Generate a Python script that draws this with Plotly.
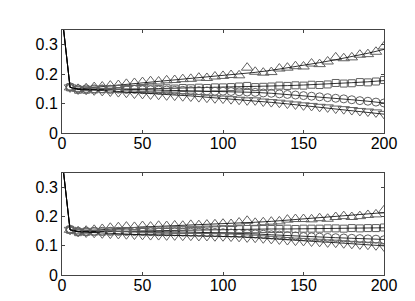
import plotly.graph_objects as go
from plotly.subplots import make_subplots

# line (trend) knots
line_x = [0, 5, 10, 20, 30, 40, 50, 60, 70, 80, 90, 100, 110, 120, 130, 140, 150, 160, 170, 180, 190, 200]
top_up_line = [0.40, 0.155, 0.150, 0.155, 0.160, 0.166, 0.172, 0.177, 0.181, 0.185, 0.190, 0.195, 0.200, 0.206, 0.213, 0.221, 0.230, 0.239, 0.249, 0.259, 0.271, 0.284]
top_sq_line = [0.40, 0.155, 0.148, 0.148, 0.149, 0.149, 0.150, 0.151, 0.152, 0.153, 0.154, 0.156, 0.157, 0.158, 0.159, 0.161, 0.163, 0.165, 0.168, 0.171, 0.174, 0.178]
top_ci_line = [0.40, 0.155, 0.150, 0.150, 0.149, 0.148, 0.147, 0.146, 0.145, 0.144, 0.143, 0.142, 0.140, 0.138, 0.135, 0.131, 0.127, 0.123, 0.118, 0.113, 0.108, 0.102]
top_dn_line = [0.40, 0.155, 0.148, 0.146, 0.143, 0.139, 0.135, 0.132, 0.129, 0.126, 0.122, 0.118, 0.114, 0.109, 0.104, 0.099, 0.093, 0.088, 0.082, 0.076, 0.070, 0.064]

bot_up_line = [0.40, 0.155, 0.150, 0.154, 0.158, 0.162, 0.165, 0.167, 0.169, 0.171, 0.173, 0.175, 0.178, 0.181, 0.184, 0.188, 0.192, 0.196, 0.200, 0.204, 0.209, 0.214]
bot_sq_line = [0.40, 0.155, 0.148, 0.149, 0.150, 0.151, 0.152, 0.153, 0.154, 0.155, 0.156, 0.157, 0.157, 0.158, 0.158, 0.158, 0.159, 0.159, 0.160, 0.160, 0.161, 0.162]
bot_ci_line = [0.40, 0.155, 0.150, 0.150, 0.150, 0.149, 0.149, 0.148, 0.148, 0.147, 0.146, 0.145, 0.143, 0.141, 0.138, 0.135, 0.132, 0.130, 0.128, 0.126, 0.124, 0.122]
bot_dn_line = [0.40, 0.155, 0.148, 0.145, 0.142, 0.140, 0.138, 0.137, 0.136, 0.135, 0.134, 0.133, 0.131, 0.128, 0.124, 0.120, 0.117, 0.114, 0.111, 0.107, 0.104, 0.100]

# marker samples
mark_x = [5, 10, 15, 20, 25, 30, 35, 40, 45, 50, 55, 60, 65, 70, 75, 80, 85, 90, 95, 100,
          105, 110, 115, 120, 125, 130, 135, 140, 145, 150, 155, 160, 165, 170, 175, 180, 185, 190, 195, 200]

top_up = [0.155, 0.150, 0.152, 0.156, 0.158, 0.161, 0.163, 0.167, 0.170, 0.173, 0.176, 0.175, 0.179, 0.180, 0.183, 0.184, 0.188, 0.187, 0.192, 0.194,
          0.197, 0.196, 0.222, 0.208, 0.205, 0.207, 0.219, 0.222, 0.227, 0.226, 0.236, 0.234, 0.243, 0.257, 0.254, 0.257, 0.266, 0.268, 0.276, 0.294]
top_sq = [0.155, 0.147, 0.147, 0.148, 0.149, 0.148, 0.150, 0.149, 0.150, 0.150, 0.151, 0.150, 0.152, 0.151, 0.153, 0.152, 0.154, 0.153, 0.155, 0.155,
          0.156, 0.158, 0.160, 0.156, 0.157, 0.158, 0.161, 0.160, 0.162, 0.161, 0.164, 0.163, 0.165, 0.170, 0.168, 0.169, 0.173, 0.172, 0.175, 0.180]
top_ci = [0.157, 0.150, 0.150, 0.150, 0.150, 0.149, 0.149, 0.148, 0.148, 0.147, 0.147, 0.146, 0.146, 0.145, 0.145, 0.144, 0.144, 0.143, 0.142, 0.142,
          0.141, 0.140, 0.139, 0.138, 0.136, 0.135, 0.133, 0.131, 0.129, 0.127, 0.125, 0.123, 0.120, 0.118, 0.116, 0.113, 0.110, 0.108, 0.105, 0.102]
top_dn = [0.155, 0.148, 0.147, 0.145, 0.143, 0.141, 0.139, 0.137, 0.134, 0.133, 0.131, 0.130, 0.128, 0.127, 0.125, 0.124, 0.122, 0.120, 0.118, 0.117,
          0.115, 0.113, 0.111, 0.111, 0.107, 0.105, 0.103, 0.100, 0.097, 0.094, 0.092, 0.089, 0.087, 0.083, 0.081, 0.078, 0.075, 0.073, 0.070, 0.065]

bot_up = [0.155, 0.150, 0.152, 0.155, 0.158, 0.162, 0.164, 0.166, 0.165, 0.168, 0.166, 0.169, 0.168, 0.170, 0.169, 0.172, 0.171, 0.173, 0.174, 0.176,
          0.175, 0.180, 0.186, 0.179, 0.181, 0.183, 0.184, 0.190, 0.192, 0.192, 0.191, 0.195, 0.193, 0.199, 0.202, 0.199, 0.202, 0.206, 0.208, 0.222]
bot_sq = [0.155, 0.147, 0.148, 0.149, 0.149, 0.150, 0.150, 0.151, 0.151, 0.152, 0.152, 0.153, 0.153, 0.154, 0.154, 0.155, 0.155, 0.156, 0.156, 0.157,
          0.157, 0.157, 0.158, 0.157, 0.158, 0.158, 0.158, 0.159, 0.158, 0.159, 0.159, 0.159, 0.160, 0.160, 0.159, 0.161, 0.160, 0.161, 0.161, 0.163]
bot_ci = [0.157, 0.150, 0.150, 0.150, 0.150, 0.150, 0.150, 0.149, 0.149, 0.149, 0.149, 0.148, 0.148, 0.148, 0.147, 0.147, 0.147, 0.146, 0.146, 0.145,
          0.144, 0.143, 0.142, 0.141, 0.140, 0.138, 0.137, 0.135, 0.134, 0.132, 0.131, 0.130, 0.129, 0.128, 0.127, 0.126, 0.125, 0.124, 0.123, 0.121]
bot_dn = [0.155, 0.148, 0.146, 0.145, 0.143, 0.142, 0.141, 0.140, 0.139, 0.138, 0.137, 0.137, 0.136, 0.136, 0.135, 0.135, 0.134, 0.134, 0.133, 0.133,
          0.132, 0.131, 0.129, 0.128, 0.126, 0.124, 0.122, 0.120, 0.118, 0.117, 0.115, 0.114, 0.112, 0.111, 0.109, 0.107, 0.105, 0.104, 0.102, 0.098]

x_ticks = [0, 50, 100, 150, 200]
y_ticks = [0, 0.1, 0.2, 0.3]
y_tick_text = ["0", "0.1", "0.2", "0.3"]

fig = make_subplots(rows=2, cols=1, vertical_spacing=0.1635)

symbols = ["triangle-up-open", "square-open", "circle-open", "triangle-down-open"]
sizes = [10, 7, 8, 10]
panels = [
    ([top_up_line, top_sq_line, top_ci_line, top_dn_line], [top_up, top_sq, top_ci, top_dn]),
    ([bot_up_line, bot_sq_line, bot_ci_line, bot_dn_line], [bot_up, bot_sq, bot_ci, bot_dn]),
]
for r, (lines, marks) in enumerate(panels, start=1):
    for ln, mk, sym, sz in zip(lines, marks, symbols, sizes):
        fig.add_trace(go.Scatter(x=mark_x, y=mk, mode="markers",
                                 marker=dict(symbol=sym, size=sz, color="#606060",
                                             line=dict(color="#606060", width=1)),
                                 showlegend=False), row=r, col=1)
        fig.add_trace(go.Scatter(x=line_x, y=ln, mode="lines",
                                 line=dict(color="black", width=0.8),
                                 showlegend=False), row=r, col=1)

axis_common = dict(showgrid=False, zeroline=False, showline=True, linecolor="#444",
                   linewidth=1, mirror="allticks", ticks="inside", ticklen=3,
                   tickcolor="#444", tickfont=dict(family="Liberation Sans, Arial", size=16, color="black"))
for r in (1, 2):
    fig.update_xaxes(range=[0, 200], tickvals=x_ticks, ticktext=[str(v) for v in x_ticks],
                     ticklabelstandoff=-4, row=r, col=1, **axis_common)
    fig.update_yaxes(range=[0, 0.35], tickvals=y_ticks, ticktext=y_tick_text, row=r, col=1, **axis_common)

fig.update_layout(width=415, height=301, margin=dict(l=54, r=39, t=22, b=34),
                  plot_bgcolor="white", paper_bgcolor="white")
fig.update_layout(yaxis=dict(domain=[0.5796, 1.0]), yaxis2=dict(domain=[0.0, 0.4163]))

fig.write_html("out.html")
